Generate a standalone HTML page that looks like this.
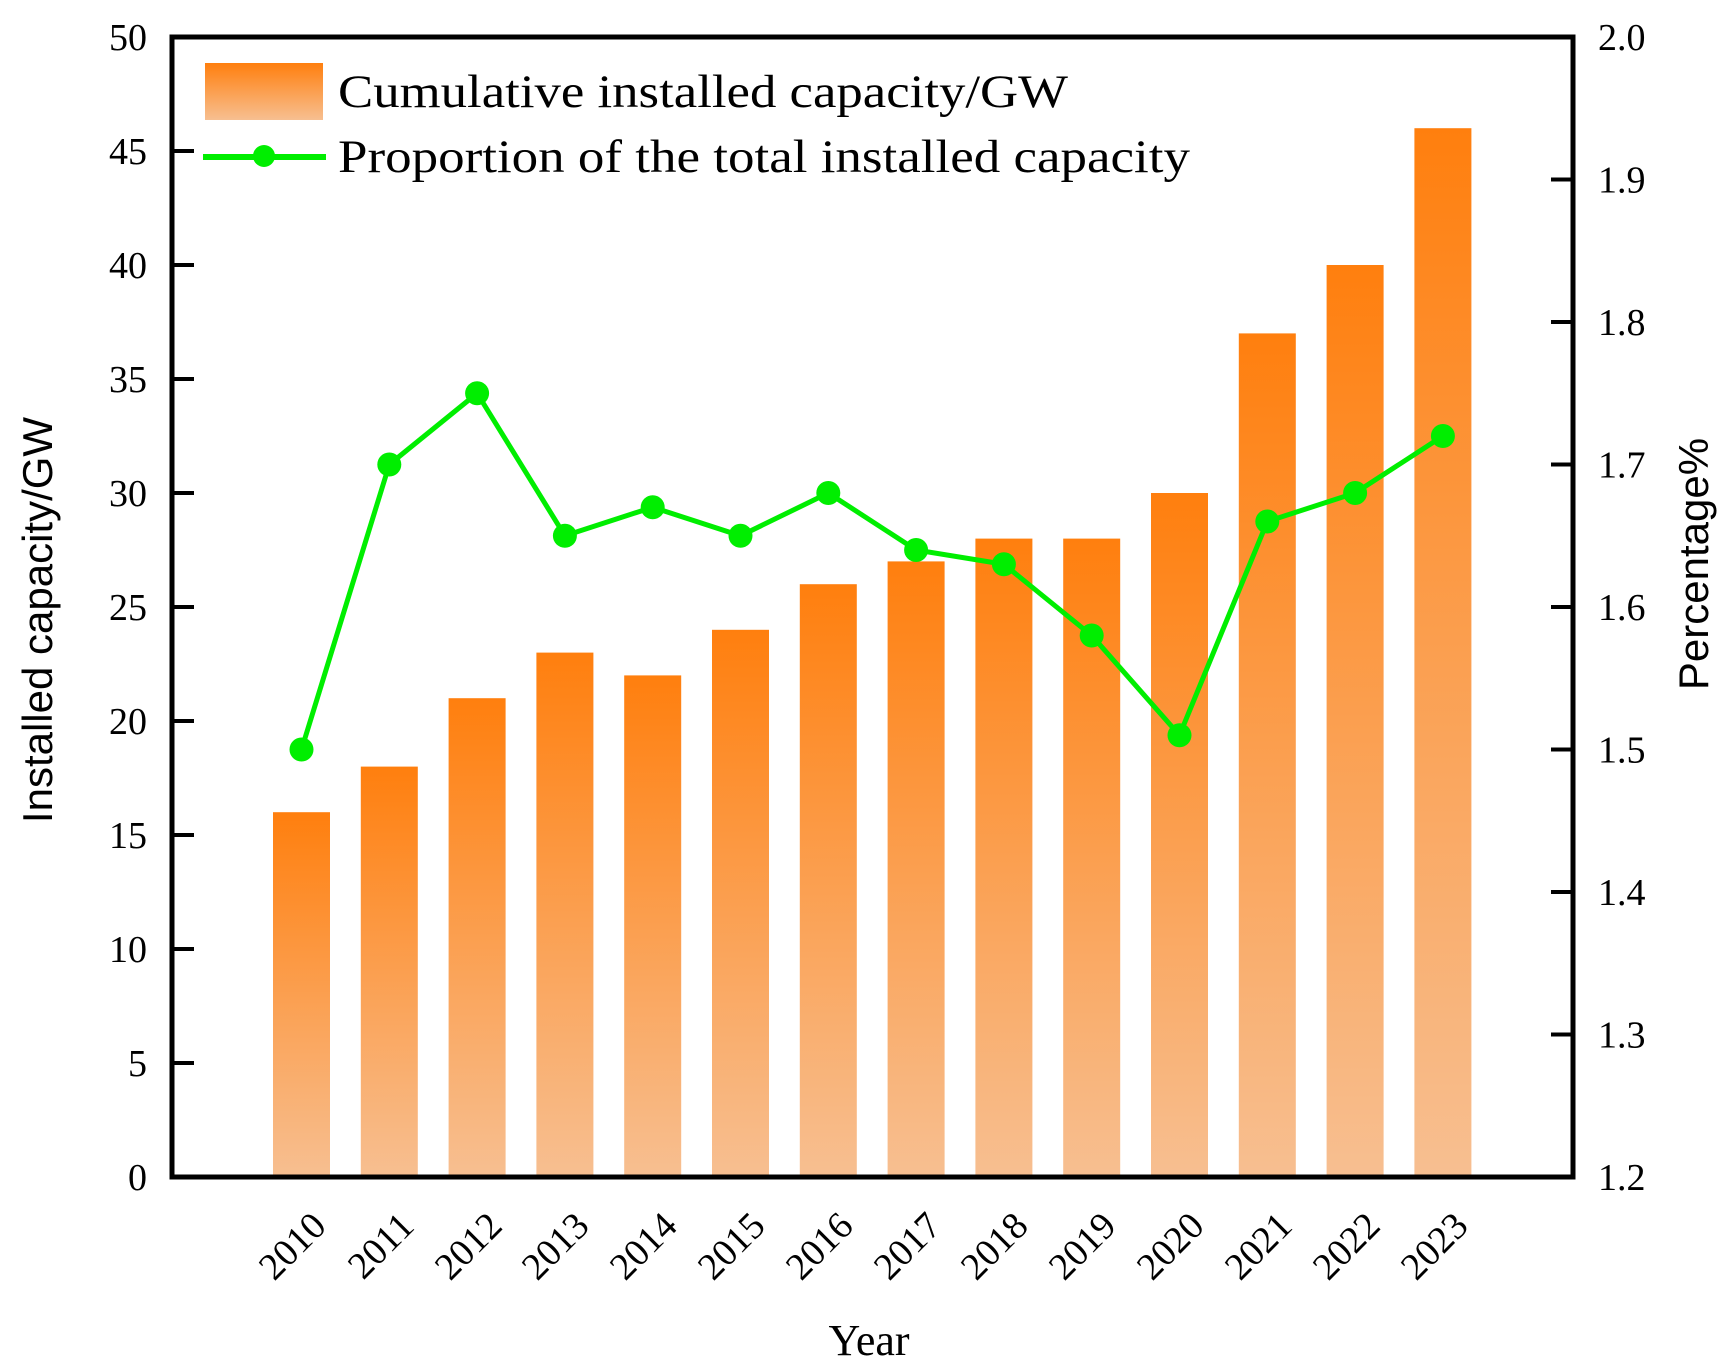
<!DOCTYPE html>
<html><head><meta charset="utf-8"><style>
html,body{margin:0;padding:0;background:#fff;}
svg{display:block;font-family:"Liberation Serif",serif;}
</style></head><body>
<svg width="1735" height="1371" viewBox="0 0 1735 1371" xmlns="http://www.w3.org/2000/svg">
<defs>
<linearGradient id="g" x1="0" y1="0" x2="0" y2="1" gradientUnits="objectBoundingBox">
<stop offset="0" stop-color="#ff7f0e"/><stop offset="1" stop-color="#f7bf91"/>
</linearGradient>
</defs>
<g fill="url(#g)">
<rect x="273" y="812.2" width="57" height="364.8"/>
<rect x="360.8" y="766.6" width="57" height="410.4"/>
<rect x="448.6" y="698.2" width="57" height="478.8"/>
<rect x="536.4" y="652.6" width="57" height="524.4"/>
<rect x="624.2" y="675.4" width="57" height="501.6"/>
<rect x="712" y="629.8" width="57" height="547.2"/>
<rect x="799.8" y="584.2" width="57" height="592.8"/>
<rect x="887.6" y="561.4" width="57" height="615.6"/>
<rect x="975.4" y="538.6" width="57" height="638.4"/>
<rect x="1063.2" y="538.6" width="57" height="638.4"/>
<rect x="1151" y="493" width="57" height="684"/>
<rect x="1238.8" y="333.4" width="57" height="843.6"/>
<rect x="1326.6" y="265" width="57" height="912"/>
<rect x="1414.4" y="128.2" width="57" height="1048.8"/>
</g>
<rect x="172" y="37" width="1401" height="1140" fill="none" stroke="#000" stroke-width="5"/>
<g stroke="#000" stroke-width="4">
<line x1="172" y1="151" x2="194" y2="151"/><line x1="172" y1="265" x2="194" y2="265"/>
<line x1="172" y1="379" x2="194" y2="379"/><line x1="172" y1="493" x2="194" y2="493"/>
<line x1="172" y1="607" x2="194" y2="607"/><line x1="172" y1="721" x2="194" y2="721"/>
<line x1="172" y1="835" x2="194" y2="835"/><line x1="172" y1="949" x2="194" y2="949"/>
<line x1="172" y1="1063" x2="194" y2="1063"/>
<line x1="1551" y1="179.5" x2="1573" y2="179.5"/><line x1="1551" y1="322" x2="1573" y2="322"/>
<line x1="1551" y1="464.5" x2="1573" y2="464.5"/><line x1="1551" y1="607" x2="1573" y2="607"/>
<line x1="1551" y1="749.5" x2="1573" y2="749.5"/><line x1="1551" y1="892" x2="1573" y2="892"/>
<line x1="1551" y1="1034.5" x2="1573" y2="1034.5"/>
</g>
<g font-size="38" text-anchor="end">
<text x="147" y="50">50</text><text x="147" y="164">45</text><text x="147" y="278">40</text>
<text x="147" y="392">35</text><text x="147" y="506">30</text><text x="147" y="620">25</text>
<text x="147" y="734">20</text><text x="147" y="848">15</text><text x="147" y="962">10</text>
<text x="147" y="1076">5</text><text x="147" y="1190">0</text>
</g>
<g font-size="38">
<text x="1598" y="50">2.0</text><text x="1598" y="192.5">1.9</text><text x="1598" y="335">1.8</text>
<text x="1598" y="477.5">1.7</text><text x="1598" y="620">1.6</text><text x="1598" y="762.5">1.5</text>
<text x="1598" y="905">1.4</text><text x="1598" y="1047.5">1.3</text><text x="1598" y="1190">1.2</text>
</g>
<g font-size="38" text-anchor="end">
<text transform="translate(328,1228) rotate(-45)">2010</text>
<text transform="translate(416,1228) rotate(-45)">2011</text>
<text transform="translate(504,1228) rotate(-45)">2012</text>
<text transform="translate(591,1228) rotate(-45)">2013</text>
<text transform="translate(679,1228) rotate(-45)">2014</text>
<text transform="translate(767,1228) rotate(-45)">2015</text>
<text transform="translate(855,1228) rotate(-45)">2016</text>
<text transform="translate(943,1228) rotate(-45)">2017</text>
<text transform="translate(1030,1228) rotate(-45)">2018</text>
<text transform="translate(1118,1228) rotate(-45)">2019</text>
<text transform="translate(1206,1228) rotate(-45)">2020</text>
<text transform="translate(1294,1228) rotate(-45)">2021</text>
<text transform="translate(1382,1228) rotate(-45)">2022</text>
<text transform="translate(1470,1228) rotate(-45)">2023</text>
</g>
<polyline fill="none" stroke="#00ee00" stroke-width="5" points="301.5,749.5 389.3,464.5 477.1,393.25 564.9,535.75 652.7,507.25 740.5,535.75 828.3,493 916.1,550 1003.9,564.25 1091.7,635.5 1179.5,735.25 1267.3,521.5 1355.1,493 1442.9,436"/>
<g fill="#00ee00">
<circle cx="301.5" cy="749.5" r="12"/><circle cx="389.3" cy="464.5" r="12"/><circle cx="477.1" cy="393.25" r="12"/>
<circle cx="564.9" cy="535.75" r="12"/><circle cx="652.7" cy="507.25" r="12"/><circle cx="740.5" cy="535.75" r="12"/>
<circle cx="828.3" cy="493" r="12"/><circle cx="916.1" cy="550" r="12"/><circle cx="1003.9" cy="564.25" r="12"/>
<circle cx="1091.7" cy="635.5" r="12"/><circle cx="1179.5" cy="735.25" r="12"/><circle cx="1267.3" cy="521.5" r="12"/>
<circle cx="1355.1" cy="493" r="12"/><circle cx="1442.9" cy="436" r="12"/>
</g>
<rect x="205" y="63" width="118" height="57" fill="url(#g)"/>
<text x="338" y="107" font-size="47" textLength="730" lengthAdjust="spacingAndGlyphs">Cumulative installed capacity/GW</text>
<line x1="203" y1="157" x2="326" y2="157" stroke="#00ee00" stroke-width="6"/>
<circle cx="264" cy="156" r="11" fill="#00ee00"/>
<text x="338" y="172" font-size="47" textLength="852" lengthAdjust="spacingAndGlyphs">Proportion of the total installed capacity</text>
<text x="869" y="1355" font-size="44" text-anchor="middle">Year</text>
<text transform="translate(52,620) rotate(-90)" font-size="42" text-anchor="middle" font-family="Liberation Sans,sans-serif">Installed capacity/GW</text>
<text transform="translate(1708,564) rotate(-90)" font-size="42" text-anchor="middle" font-family="Liberation Sans,sans-serif">Percentage%</text>
</svg>
</body></html>
